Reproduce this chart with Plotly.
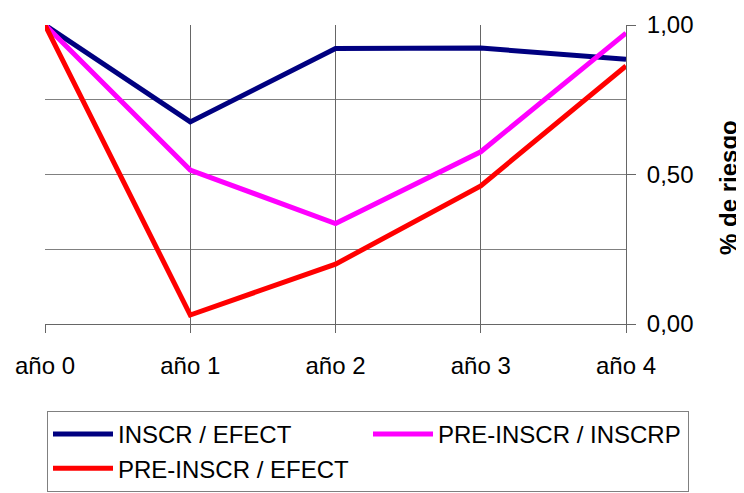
import plotly.graph_objects as go

categories = ["año 0", "año 1", "año 2", "año 3", "año 4"]
inscr_efect = [1.00, 0.676, 0.921, 0.923, 0.885]
pre_inscr_inscrp = [1.00, 0.515, 0.336, 0.576, 0.973]
pre_inscr_efect = [1.00, 0.030, 0.200, 0.462, 0.863]
y_ticks = [0.0, 0.5, 1.0]

series = [
    ("INSCR / EFECT", inscr_efect, "#000080"),
    ("PRE-INSCR / INSCRP", pre_inscr_inscrp, "#FF00FF"),
    ("PRE-INSCR / EFECT", pre_inscr_efect, "#FF0000"),
]

FONT = "Liberation Sans, Arial, sans-serif"
FS = 24
xpos = list(range(len(categories)))

# page is offset by the 8px default body margin
OFF = 8
W, H = 744 - OFF, 493 - OFF
L, T = 37, 17
PW, PH = 581, 299
R, B = W - L - PW, H - T - PH

def px_x(page_x):
    return (page_x - OFF - L) / PW

def px_y(page_y):
    return (T + PH - (page_y - OFF)) / PH

fig = go.Figure()
for name, vals, col in series:
    fig.add_trace(go.Scatter(x=xpos, y=vals, name=name, mode="lines",
                             line=dict(color=col, width=5)))

fig.update_layout(
    width=W, height=H, autosize=False,
    margin=dict(l=L, r=R, t=T, b=B, pad=0, autoexpand=False),
    paper_bgcolor="white", plot_bgcolor="white",
    separators=",.",
    font=dict(family=FONT, size=FS, color="black"),
    showlegend=True,
    legend=dict(
        orientation="h", x=px_x(689), xanchor="right",
        y=px_y(411), yanchor="top",
        bordercolor="#808080", borderwidth=1, bgcolor="white",
        font=dict(family=FONT, size=FS, color="black"),
        itemwidth=60, entrywidthmode="pixels", entrywidth=245,
        tracegroupgap=0,
    ),
    xaxis=dict(
        range=[0, 4], tickvals=xpos, ticktext=categories,
        showgrid=True, gridcolor="#666666", gridwidth=1,
        ticks="outside", ticklen=8, tickcolor="#666666",
        showline=True, linecolor="#666666", zeroline=False,
        ticklabelstandoff=12,
        tickfont=dict(family=FONT, size=FS),
    ),
    yaxis=dict(
        range=[0, 1], side="right", tickvals=y_ticks, tickformat=".2f",
        showgrid=True, gridcolor="#808080", gridwidth=1,
        minor=dict(dtick=0.25, showgrid=True, gridcolor="#808080", gridwidth=1, ticks=""),
        ticks="outside", ticklen=9, tickcolor="#666666",
        showline=True, linecolor="#666666", zeroline=False,
        ticklabelstandoff=6,
        tickfont=dict(family=FONT, size=FS),
    ),
    annotations=[dict(
        text="<b>% de riesgo</b>", xref="paper", yref="paper",
        x=px_x(728), y=px_y(188), xanchor="center", yanchor="middle",
        textangle=-90, showarrow=False, font=dict(family=FONT, size=FS, color="black"),
    )],
)

fig.write_html("out.html")
